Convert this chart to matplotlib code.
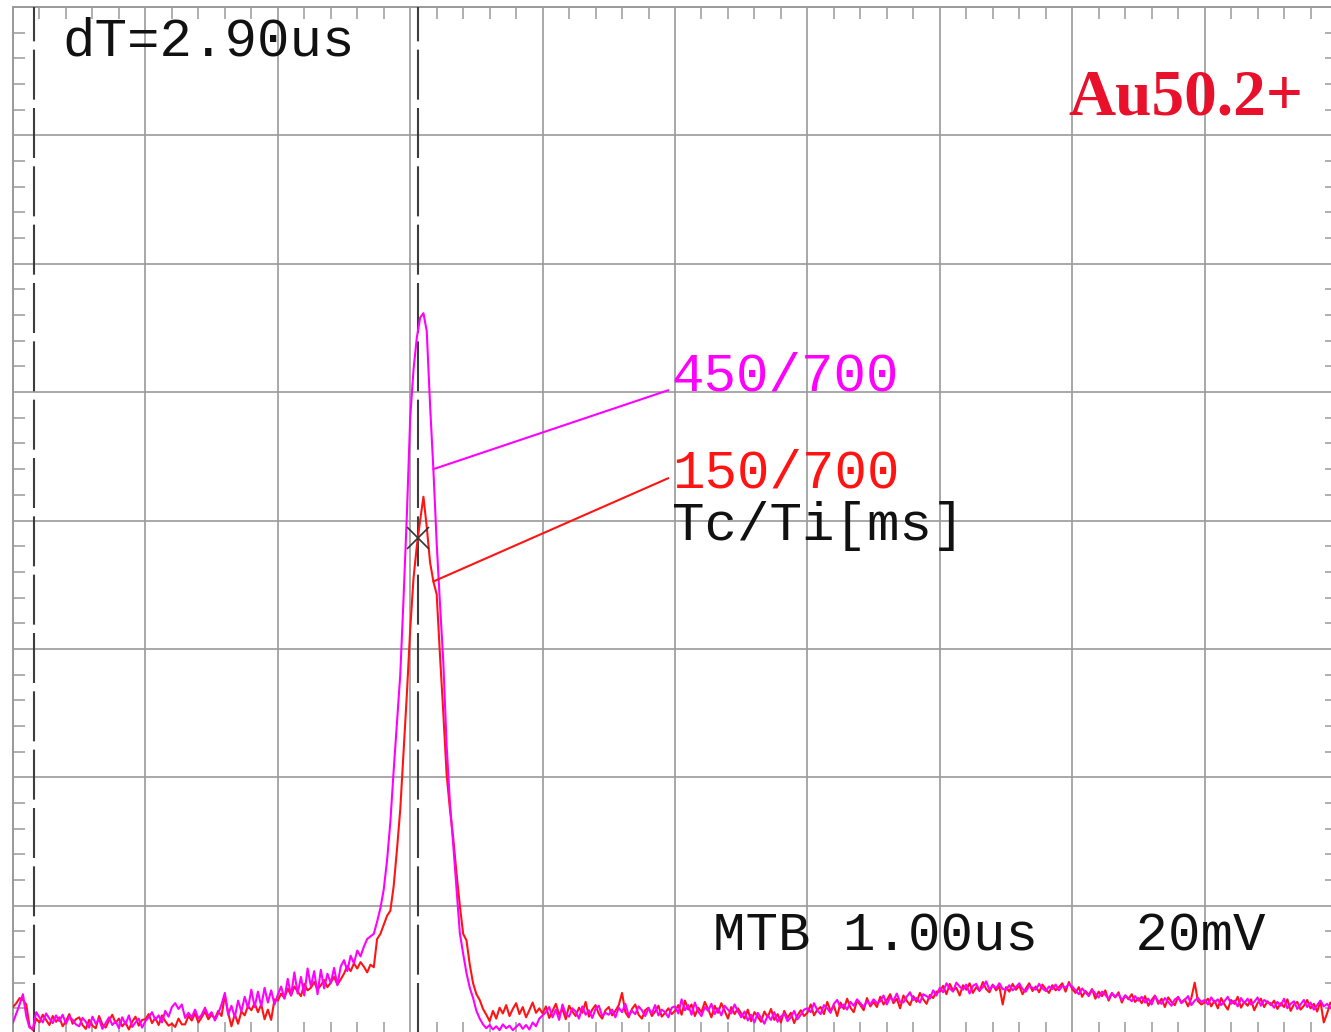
import numpy as np
import matplotlib.pyplot as plt
from matplotlib.ticker import MultipleLocator, NullFormatter

# scope settings: 10 x 8 divisions, 1 us/div, 20 mV/div
time_per_div = 1.0     # us
volt_per_div = 20.0    # mV
n_xdiv, n_ydiv = 10, 8
sample_step = 0.025    # us between samples

# time cursors (us)
cursor_a = 0.158
cursor_b = 3.058

# channel traces in mV, one row per 0.5 us
trace_450 = [  # Tc/Ti = 450/700 ms
    1.8, 3.2, 4.6, 6.2, 2.8, 1.0, 0.8, 3.4, 2.6, 1.8, 3.2, 2.4, 1.7, 2.9, 2.0, 3.0, 1.6, 2.7, 2.2, 1.5,
    1.2, 2.5, 1.9, 1.0, 2.7, 1.6, 2.3, 0.8, 1.7, 2.6, 1.4, 2.0, 0.9, 2.6, 1.5, 2.9, 1.1, 1.8, 2.4, 1.0,
    2.0, 2.6, 3.4, 2.2, 2.9, 1.8, 3.6, 2.7, 4.2, 4.8, 3.9, 4.6, 2.5, 3.3, 2.6, 3.8, 2.4, 3.0, 4.1, 2.8,
    3.4, 2.1, 3.2, 4.6, 6.4, 3.0, 4.4, 2.6, 5.2, 3.5, 5.8, 4.0, 6.9, 4.2, 6.6, 4.3, 7.2, 4.9, 6.8, 4.6,
    6.1, 7.4, 5.5, 8.6, 6.0, 9.6, 6.3, 8.9, 6.0, 10.2, 7.4, 9.8, 6.2, 10.0, 7.1, 9.4, 7.9, 10.3, 7.6, 10.5,
    11.5, 9.8, 12.2, 11.0, 13.0, 12.1, 13.6, 14.8, 15.2, 15.6, 17.5, 19.6, 22.5, 27.0, 33.0, 41.0, 48.5, 56.0, 68.0, 81.0,
    96.0, 103.5, 108.5, 111.6, 112.3, 109.5, 98.0, 88.0, 76.5, 67.0, 58.0, 45.0, 36.0, 29.5, 22.5, 15.7, 12.5, 9.5, 7.2, 5.6,
    3.6, 2.4, 1.5, 0.9, 1.4, 0.7, 1.2, 0.6, 1.5, 0.9, 1.3, 0.6, 1.1, 1.6, 0.8, 1.4, 0.7, 1.8, 1.2, 2.4,
    2.9, 3.4, 4.2, 2.6, 3.8, 2.2, 4.6, 3.1, 2.7, 4.0, 3.5, 2.4, 4.3, 3.0, 3.7, 2.5, 3.9, 4.4, 2.8, 3.3,
    3.0, 3.8, 2.6, 4.1, 3.4, 4.7, 2.9, 3.6, 3.1, 4.3, 3.7, 2.8, 4.0, 3.2, 4.5, 2.9, 3.8, 3.4, 2.6, 4.1,
    4.3, 3.2, 5.4, 3.7, 4.5, 3.0, 4.9, 3.5, 2.8, 4.2, 3.6, 4.7, 3.1, 4.0, 2.9, 4.4, 3.8, 3.2, 4.6, 3.5,
    2.6, 3.5, 2.1, 3.0, 1.8, 3.3, 2.5, 1.6, 2.9, 2.2, 3.4, 1.9, 2.7, 3.2, 2.0, 2.6, 3.6, 2.3, 3.0, 3.8,
    4.0, 3.4, 4.8, 3.7, 3.1, 4.5, 4.0, 3.3, 4.7, 5.3, 4.1, 4.6, 3.8, 5.0, 4.4, 5.4, 4.8, 4.2, 5.1, 4.6,
    5.4, 4.8, 5.1, 6.0, 4.6, 5.7, 5.2, 6.3, 5.0, 4.9, 5.8, 6.5, 5.3, 5.6, 4.9, 6.2, 5.9, 5.5, 6.8, 6.0,
    7.2, 6.5, 7.9, 7.1, 6.6, 8.0, 7.4, 6.9, 7.7, 6.3, 7.5, 7.8, 6.8, 7.3, 8.2, 6.9, 7.6, 7.1, 7.9, 7.0,
    6.9, 7.6, 6.8, 7.3, 7.9, 7.0, 6.6, 7.5, 7.2, 6.9, 7.8, 7.1, 6.7, 7.4, 7.0, 7.7, 6.8, 7.5, 7.2, 7.8,
    7.4, 6.8, 6.2, 7.1, 6.5, 5.9, 6.9, 6.3, 5.7, 6.6, 6.1, 5.5, 6.4, 5.8, 6.2, 5.3, 6.0, 5.6, 5.1, 5.9,
    5.2, 5.8, 4.9, 5.5, 4.6, 5.9, 5.1, 4.7, 5.6, 5.0, 4.4, 5.4, 5.7, 4.8, 5.3, 5.9, 4.5, 5.2, 5.6, 5.0,
    5.3, 4.6, 5.7, 4.9, 5.4, 4.5, 5.1, 5.8, 4.7, 5.2, 4.3, 5.6, 4.8, 5.5, 4.6, 5.0, 5.7, 4.4, 5.3, 4.9,
    4.8, 4.1, 5.0, 4.4, 5.5, 4.0, 4.7, 5.1, 3.9, 4.6, 5.3, 4.2, 4.9, 3.8, 4.5, 5.2, 4.3, 4.7, 4.0, 4.6,
    4.5,
]

trace_150 = [  # Tc/Ti = 150/700 ms
    4.2, 4.8, 5.6, 5.3, 4.6, 1.2, 0.6, 2.4, 1.8, 3.0, 2.2, 1.4, 2.8, 1.9, 2.6, 1.2, 2.0, 3.1, 1.6, 2.3,
    2.6, 1.4, 0.8, 2.2, 1.3, 0.9, 2.8, 1.5, 1.0, 2.1, 3.0, 1.7, 2.4, 1.2, 1.8, 0.7, 1.9, 2.7, 1.3, 2.2,
    2.3, 3.1, 1.7, 2.5, 1.4, 2.9, 2.0, 1.3, 1.6, 1.1, 2.4, 1.5, 1.5, 2.8, 2.1, 3.2, 1.8, 2.6, 3.5, 2.3,
    3.0, 2.4, 3.6, 2.8, 6.0, 3.3, 1.2, 3.1, 1.6, 3.5, 2.9, 4.4, 3.7, 4.8, 3.4, 4.6, 2.3, 3.8, 2.2, 5.4,
    5.2, 6.3, 5.6, 7.1, 6.0, 7.4, 6.6, 5.9, 7.8, 6.8, 7.2, 8.1, 6.9, 7.6, 8.4, 7.3, 8.0, 8.9, 7.7, 8.5,
    9.4, 10.6, 9.8, 11.0, 10.2, 11.2, 10.5, 9.6, 10.8, 10.4, 14.8, 15.6, 17.0, 18.4, 19.2, 23.0, 28.7, 35.0, 44.0, 53.0,
    63.0, 71.0, 76.0, 80.0, 83.7, 79.0, 73.5, 70.5, 68.5, 59.0, 50.0, 40.5, 35.0, 30.5, 25.0, 20.0, 15.6, 14.6, 10.8, 7.9,
    6.2, 5.3, 3.9, 3.0, 2.0, 3.6, 2.4, 4.1, 3.2, 4.5, 2.8, 3.9, 4.8, 3.1, 4.2, 2.6, 3.7, 4.9, 3.3, 4.0,
    3.2, 4.3, 2.5, 3.6, 4.7, 3.0, 3.9, 2.3, 4.4, 3.5, 2.8, 4.1, 3.3, 5.0, 2.7, 3.8, 4.5, 3.1, 2.4, 3.7,
    4.2, 2.9, 3.6, 4.5, 6.4, 3.4, 2.6, 3.9, 4.6, 3.0, 2.4, 3.7, 4.1, 2.8, 3.5, 4.4, 2.7, 3.3, 4.0, 3.1,
    3.6, 4.5, 3.0, 5.2, 3.8, 4.6, 2.8, 4.1, 3.4, 5.0, 3.9, 2.6, 4.4, 3.3, 4.8, 3.6, 2.4, 4.2, 3.1, 4.0,
    3.2, 2.4, 3.8, 2.0, 3.4, 2.7, 1.9, 3.5, 2.6, 3.9, 2.2, 3.1, 1.8, 3.6, 2.5, 3.3, 1.7, 2.9, 3.7, 2.8,
    3.3, 4.6, 2.9, 3.8, 4.2, 3.1, 5.0, 3.6, 4.4, 2.8, 4.9, 3.9, 5.5, 4.1, 3.4, 5.2, 4.5, 3.7, 5.6, 4.3,
    5.0, 4.2, 5.8, 4.6, 5.3, 6.2, 4.8, 5.5, 4.0, 6.0, 5.2, 4.5, 5.9, 5.0, 6.4, 5.4, 4.7, 6.1, 5.6, 6.6,
    6.6, 7.5, 6.2, 7.8, 6.8, 7.2, 6.0, 7.6, 6.9, 7.9, 6.4, 7.3, 6.7, 8.1, 7.0, 6.5, 7.7, 6.8, 7.4, 4.6,
    7.3, 6.6, 7.8, 6.9, 7.5, 6.2, 7.1, 7.9, 6.7, 7.4, 6.5, 7.7, 7.0, 6.4, 7.6, 6.8, 7.3, 7.9, 6.6, 8.1,
    7.0, 6.4, 7.3, 5.8, 6.7, 6.1, 7.0, 5.5, 6.6, 5.9, 6.8, 5.2, 6.3, 5.7, 6.5, 4.9, 6.0, 5.4, 6.2, 5.0,
    5.6, 4.8, 5.9, 4.4, 5.3, 6.0, 4.7, 5.5, 4.2, 5.7, 5.0, 4.5, 5.8, 4.9, 5.4, 4.3, 5.6, 8.0, 5.1, 4.6,
    4.9, 5.5, 4.3, 5.2, 4.0, 5.6, 4.6, 3.8, 5.3, 4.7, 5.8, 4.1, 5.0, 4.4, 5.4, 3.7, 4.8, 5.5, 4.2, 5.1,
    4.5, 5.2, 3.9, 4.8, 4.2, 5.4, 3.6, 4.6, 5.0, 3.8, 4.4, 5.3, 4.0, 4.7, 3.5, 5.1, 1.8, 3.2, 4.9, 4.1,
    4.4,
]

labels = ["450/700", "150/700"]
colors = ["#ff00ff", "#ff1414"]

t_450 = np.arange(len(trace_450)) * sample_step
t_150 = np.arange(len(trace_150)) * sample_step

W, H = 1331, 1032
fig = plt.figure(figsize=(W / 100, H / 100), dpi=100)
# screen spans 13..1337 px horizontally, 7..1034 px vertically
ax = fig.add_axes([13 / W, -2 / H, 1324 / W, 1027 / H])
ax.set_xlim(0, n_xdiv * time_per_div)
ax.set_ylim(0, n_ydiv * volt_per_div)

grid_col = "#9a9a9a"
ax.xaxis.set_major_locator(MultipleLocator(time_per_div))
ax.yaxis.set_major_locator(MultipleLocator(volt_per_div))
ax.xaxis.set_minor_locator(MultipleLocator(time_per_div / 5))
ax.yaxis.set_minor_locator(MultipleLocator(volt_per_div / 5))
ax.xaxis.set_major_formatter(NullFormatter())
ax.yaxis.set_major_formatter(NullFormatter())
ax.tick_params(which="major", length=0)
ax.tick_params(which="minor", direction="in", length=8.5, width=1.1, color=grid_col,
               top=True, right=True, bottom=True, left=True)
ax.grid(True, which="major", color=grid_col, linewidth=1.2)
for sp in ax.spines.values():
    sp.set_color(grid_col)
    sp.set_linewidth(1.4)

# cursors
plt.rcParams["lines.scale_dashes"] = False
for c in (cursor_a, cursor_b):
    ax.axvline(c, color="#3c3c3c", linewidth=1.5, dashes=(36, 6), zorder=3)

# traces
ax.plot(t_150, trace_150, color=colors[1], linewidth=1.5, zorder=4)
ax.plot(t_450, trace_450, color=colors[0], linewidth=1.5, zorder=4)

# cursor crossing on the 150/700 trace
x_val = np.interp(cursor_b, t_150, trace_150)
ax.plot([cursor_b], [x_val], marker="x", color="#333333", markersize=16,
        markeredgewidth=1.2, zorder=5)

mono = "Liberation Mono"
fs = 39

# labels with leader lines
lead_idx = 127
label_x = 4.95
for trace, t_arr, col, ly in [(trace_450, t_450, colors[0], 100.3),
                              (trace_150, t_150, colors[1], 86.6)]:
    ax.annotate("", xy=(t_arr[lead_idx], trace[lead_idx]), xytext=(label_x, ly),
                arrowprops=dict(arrowstyle="-", color=col, lw=1.5, shrinkA=0, shrinkB=0),
                zorder=5)
ax.text(4.975, 100.3, labels[0], color=colors[0], family=mono, fontsize=fs, va="baseline")
ax.text(4.975, 85.2, labels[1], color=colors[1], family=mono, fontsize=fs, va="baseline")
ax.text(4.975, 77.0, "Tc/Ti[ms]", color="#111111", family=mono, fontsize=fs, va="baseline")

ax.text(0.37, 152.5, f"dT={cursor_b - cursor_a:.2f}us", color="#111111", family=mono,
        fontsize=fs, va="baseline")
ax.text(5.29, 13.0, f"MTB {time_per_div:.2f}us   {volt_per_div:.0f}mV", color="#111111",
        family=mono, fontsize=fs, va="baseline")

ax.text(7.97, 143.2, "Au50.2+", color="#e8102a", family="Liberation Serif",
        fontweight="bold", fontsize=47, va="baseline")

fig.savefig("out.png", dpi=100, facecolor="white")
